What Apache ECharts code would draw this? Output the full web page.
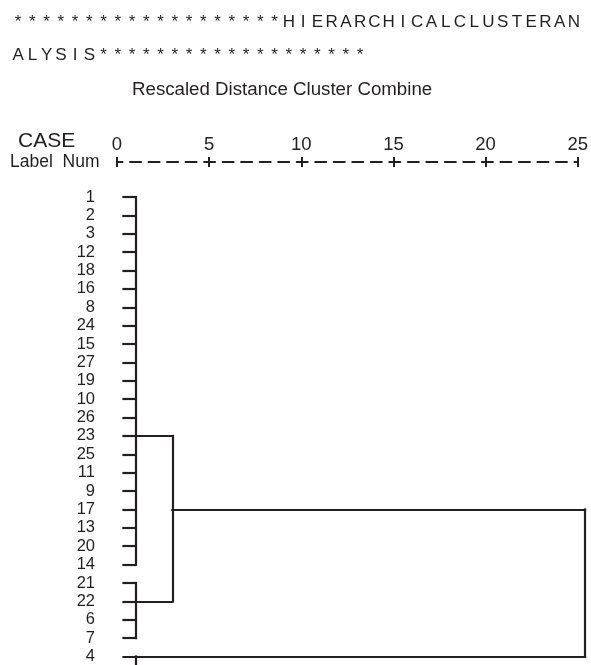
<!DOCTYPE html>
<html>
<head>
<meta charset="utf-8">
<script src="https://cdn.jsdelivr.net/npm/echarts@6/dist/echarts.min.js"></script>
<style>
  html, body { margin: 0; padding: 0; background: #fff; }
  #main { width: 591px; height: 665px; }
</style>
</head>
<body>
<div id="main"></div>
<script>
// 行标签（自上而下）
const rowLabels = ['1', '2', '3', '12', '18', '16', '8', '24', '15', '27', '19', '10', '26',
  '23', '25', '11', '9', '17', '13', '20', '14', '21', '22', '6', '7', '4'];
// 距离刻度
const distTicks = [0, 5, 10, 15, 20, 25];

// 叶子横线：起点距离、终点距离（每行一个）
const leafStart = 0.35;
const leafEnd = [1, 1, 1, 1, 1, 1, 1, 1, 1, 1, 1, 1, 1, 1, 1, 1, 1, 1, 1, 1, 1,
  1, 1, 1, 1, 25.4];

// 竖线（合并）：距离、起始行、结束行
const joinDist = [1, 1, 3, 25.4, 1];
const joinFrom = [0, 21, 13, 17, 25];
const joinTo = [20, 24, 22, 25, 25.7];

// 合并之间的横线：所在行、起点距离、终点距离
const linkRow = [13, 22, 17];
const linkFrom = [1, 1, 3];
const linkTo = [3, 3, 25.4];

const ink = '#231f20';
const font = '"Liberation Sans", Arial, sans-serif';

// 构建线段
let segs = [];
rowLabels.forEach(function (lab, i) {
  segs.push({ coords: [[leafStart, i], [leafEnd[i], i]] });
});
joinDist.forEach(function (d, k) {
  segs.push({ coords: [[d, joinFrom[k]], [d, joinTo[k]]] });
});
linkRow.forEach(function (r, k) {
  segs.push({ coords: [[linkFrom[k], r], [linkTo[k], r]] });
});

// 表头：等宽格子排版
const head1 = '*******************HIERARCHICALCLUSTERAN';
const head2 = 'ALYSIS*******************';
function cells(s) {
  return s.split('').map(function (ch) { return '{c|' + ch + '}'; }).join('');
}
const cellRich = {
  c: { width: 14.25, align: 'center', fontSize: 17, fontWeight: 'normal', color: ink, fontFamily: font }
};

let chart = echarts.init(document.getElementById('main'));

chart.setOption({
  animation: false,
  backgroundColor: '#fff',
  title: [
    { text: cells(head1), left: 11, top: 14, padding: 0,
      textStyle: { rich: cellRich, fontSize: 17, fontWeight: 'normal' } },
    { text: cells(head2), left: 11, top: 47, padding: 0,
      textStyle: { rich: cellRich, fontSize: 17, fontWeight: 'normal' } },
    { text: 'Rescaled Distance Cluster Combine', left: 132, top: 80, padding: 0,
      textStyle: { fontSize: 18.7, fontWeight: 'normal', color: ink, fontFamily: font } },
    { text: 'CASE', left: 18, top: 131, padding: 0,
      textStyle: { fontSize: 21, fontWeight: 'normal', color: ink, fontFamily: font } },
    { text: 'Label  Num', left: 10, top: 153, padding: 0,
      textStyle: { fontSize: 17.5, fontWeight: 'normal', color: ink, fontFamily: font } }
  ],
  grid: { left: 117, right: 11, top: 197, bottom: 8 },
  xAxis: [
    {
      type: 'value', position: 'top', offset: 35,
      min: distTicks[0], max: distTicks[distTicks.length - 1], interval: 5,
      splitLine: { show: false },
      axisLine: { show: true, onZero: false,
        lineStyle: { color: ink, width: 2, type: [11, 7.52], dashOffset: 5.5 } },
      axisTick: { show: true, length: 5, lineStyle: { color: ink, width: 2 } },
      axisLabel: { fontSize: 18.5, color: ink, fontFamily: font, margin: 8 }
    },
    {
      type: 'value', position: 'top', offset: 35,
      min: distTicks[0], max: distTicks[distTicks.length - 1], interval: 5,
      splitLine: { show: false },
      axisLine: { show: false, onZero: false },
      axisTick: { show: true, inside: true, length: 5, lineStyle: { color: ink, width: 2 } },
      axisLabel: { show: false }
    }
  ],
  yAxis: {
    type: 'value', inverse: true, min: 0, max: rowLabels.length - 1, interval: 1,
    splitLine: { show: false },
    axisLine: { show: false },
    axisTick: { show: false },
    axisLabel: {
      fontSize: 16.5, color: ink, fontFamily: font, margin: 22,
      formatter: function (v) { return rowLabels[v] || ''; }
    }
  },
  series: [
    {
      type: 'lines',
      coordinateSystem: 'cartesian2d',
      xAxisIndex: 0,
      yAxisIndex: 0,
      polyline: false,
      clip: false,
      silent: true,
      lineStyle: { color: ink, width: 2.2, opacity: 1, cap: 'square' },
      data: segs
    }
  ]
});
</script>
</body>
</html>
